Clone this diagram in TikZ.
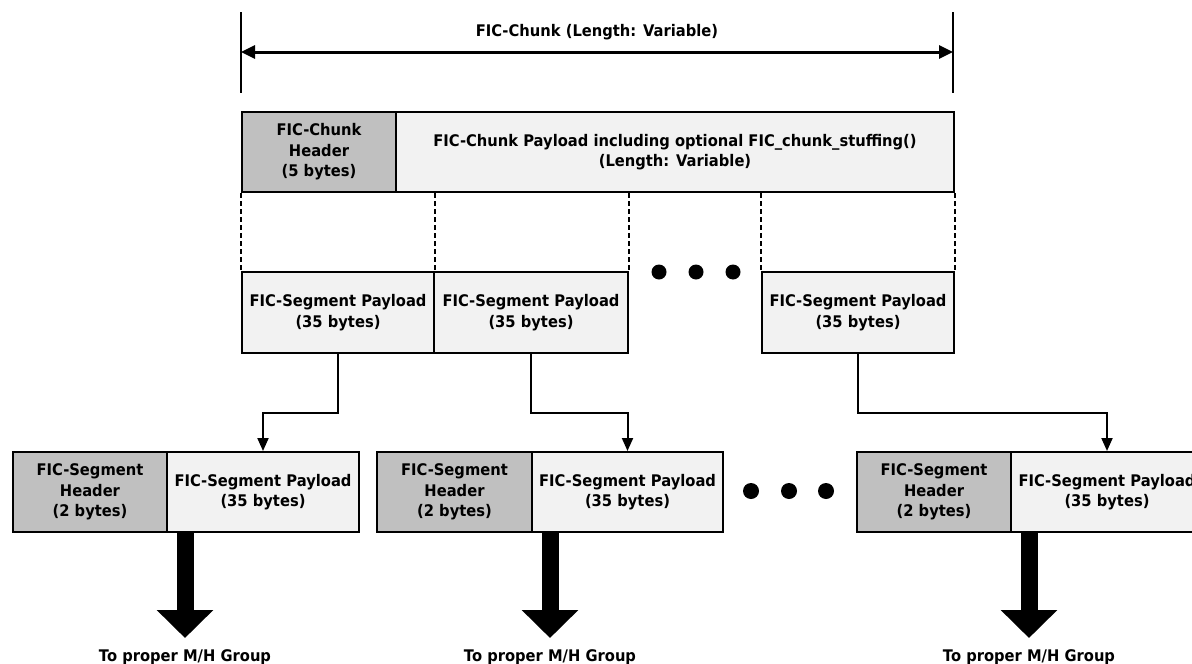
\documentclass[tikz,border=0pt]{standalone}
\usepackage{fontspec}
\setmainfont{DejaVu Sans}[FakeStretch=0.92]
\usetikzlibrary{arrows.meta}
\definecolor{hdrgray}{HTML}{C0C0C0}
\definecolor{paygray}{HTML}{F2F2F2}
\begin{document}
\begin{tikzpicture}[x=1pt,y=-1pt,
  font=\bfseries\fontsize{16}{20.5}\selectfont,
  box/.style={draw, line width=2pt, inner sep=0pt, anchor=north west, align=center, minimum height=80pt},
  hdr/.style={box, fill=hdrgray},
  pay/.style={box, fill=paygray},
  bar/.style={line width=2pt},
  dimarrow/.style={line width=3pt, {Triangle[length=14pt,width=13pt]}-{Triangle[length=14pt,width=13pt]}},
  dashline/.style={line width=2pt, dash pattern=on 5pt off 3pt},
  conn/.style={line width=2pt, -{Triangle[length=13pt,width=11pt]}},
  big/.style={line width=17pt, -{Triangle[length=28pt,width=55pt]}},
  dot/.style={fill=black},
  lbl/.style={anchor=base, font=\bfseries\fontsize{16}{19}\selectfont}
]
\useasboundingbox (0,0) rectangle (1192,664);

% top dimension
\coordinate (b1t) at (241,12); \coordinate (b1b) at (241,93);
\coordinate (b2t) at (953,12); \coordinate (b2b) at (953,93);
\draw[bar] (b1t) -- (b1b);
\draw[bar] (b2t) -- (b2b);
\coordinate (d1) at (241,52); \coordinate (d2) at (953,52);
\draw[dimarrow] (d1) -- (d2);
\node (dimlbl) at (597,32) {FIC-Chunk (Length: Variable)};

% chunk
\node[hdr, minimum width=154pt] (ch) at (241,111) {FIC-Chunk\\Header\\(5 bytes)};
\node[pay, minimum width=558pt] (cp) at (395,111) {FIC-Chunk Payload including optional FIC\_chunk\_stuffing()\\(Length: Variable)};

% segments
\node[pay, minimum width=192pt, minimum height=81pt] (s1) at (241,271) {FIC-Segment Payload\\(35 bytes)};
\node[pay, minimum width=194pt, minimum height=81pt] (s2) at (433,271) {FIC-Segment Payload\\(35 bytes)};
\node[pay, minimum width=192pt, minimum height=81pt] (s3) at (761,271) {FIC-Segment Payload\\(35 bytes)};

\draw[dashline] (ch.south west) -- (s1.north west);
\draw[dashline] (s1.north east |- cp.south) -- (s1.north east);
\draw[dashline] (s2.north east |- cp.south) -- (s2.north east);
\draw[dashline] (s3.north west |- cp.south) -- (s3.north west);
\draw[dashline] (cp.south east) -- (s3.north east);

\fill[dot] (659,272) circle (7.5pt);
\fill[dot] (696,272) circle (7.5pt);
\fill[dot] (733,272) circle (7.5pt);

% bottom packets
\node[hdr, minimum width=154pt] (hA) at (12,451) {FIC-Segment\\Header\\(2 bytes)};
\node[pay, minimum width=192pt] (pA) at (166,451) {FIC-Segment Payload\\(35 bytes)};
\node[hdr, minimum width=155pt] (hB) at (376,451) {FIC-Segment\\Header\\(2 bytes)};
\node[pay, minimum width=191pt] (pB) at (531,451) {FIC-Segment Payload\\(35 bytes)};
\node[hdr, minimum width=154pt] (hC) at (856,451) {FIC-Segment\\Header\\(2 bytes)};
\node[pay, minimum width=192pt] (pC) at (1010,451) {FIC-Segment Payload\\(35 bytes)};

\fill[dot] (751,491) circle (8pt);
\fill[dot] (789,491) circle (8pt);
\fill[dot] (826,491) circle (8pt);

% connectors
\draw[conn] (s1.south) -- ++(0,59) -| (pA.north);
\draw[conn] (s2.south) -- ++(0,59) -| (pB.north);
\draw[conn] (s3.south) -- ++(0,59) -| (pC.north);

% outputs
\node[lbl] (gA) at (185,661) {To proper M/H Group};
\node[lbl] (gB) at (550,661) {To proper M/H Group};
\node[lbl] (gC) at (1029,661) {To proper M/H Group};
\coordinate (aA) at (185,532); \coordinate (tA) at (185,638);
\coordinate (aB) at (550,532); \coordinate (tB) at (550,638);
\coordinate (aC) at (1029,532); \coordinate (tC) at (1029,638);
\draw[big] (aA) -- (tA);
\draw[big] (aB) -- (tB);
\draw[big] (aC) -- (tC);
\end{tikzpicture}
\end{document}
